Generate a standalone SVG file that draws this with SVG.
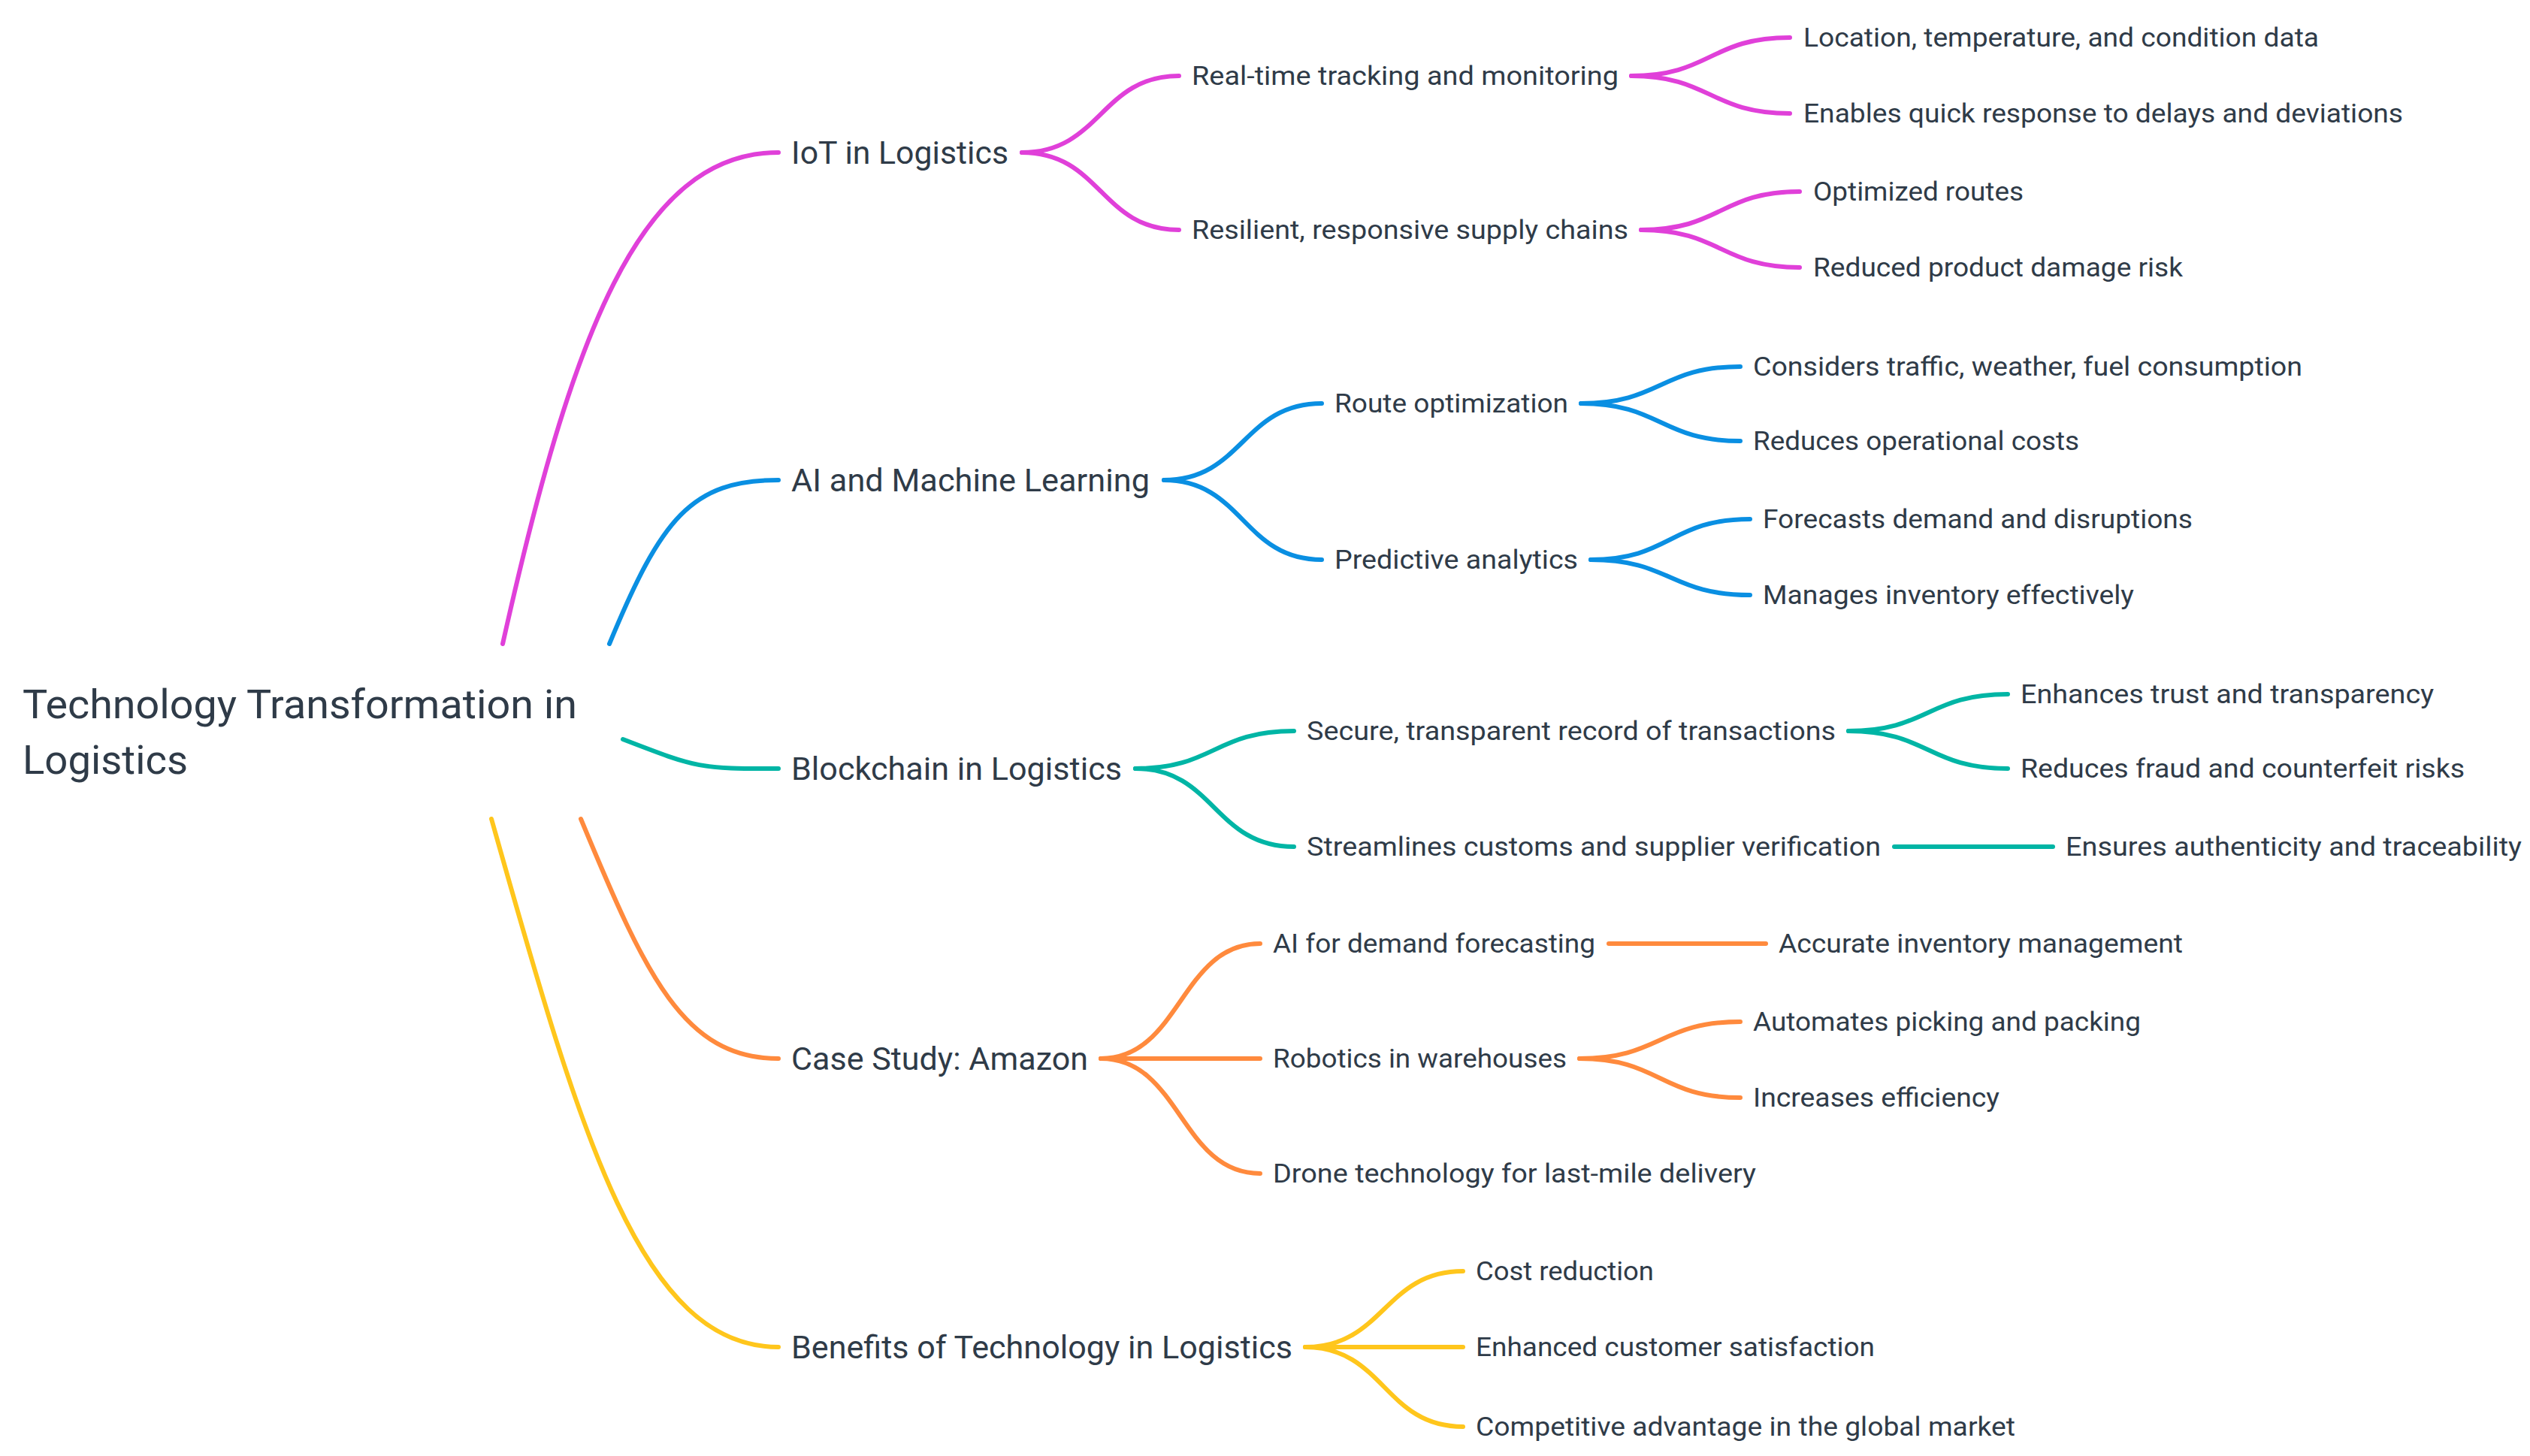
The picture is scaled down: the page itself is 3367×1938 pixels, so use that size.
<svg xmlns="http://www.w3.org/2000/svg" width="3367" height="1938" viewBox="0 0 3367 1938">
<style>
text{font-family:Roboto,"Liberation Sans",sans-serif;fill:#2F3B48}
.r{font-size:54px}.l1{font-size:43px}.t{font-size:35px}
path{fill:none;stroke-width:6;stroke-linecap:round}
.m{stroke:#E040D9}.b{stroke:#0A8FE2}.g{stroke:#00B5A5}.o{stroke:#FF8A3D}.y{stroke:#FFC61C}
</style>
<rect width="3367" height="1938" fill="#fff"/>
<g id="connectors">
<path class="m" d="M669,857 C760,450 850,203 1036,203"/>
<path class="b" d="M811,857 C880,690 920,639 1036,639"/>
<path class="g" d="M829,984 C930,1023 930,1023 1036,1023"/>
<path class="o" d="M773,1090 C860,1300 910,1409 1036,1409"/>
<path class="y" d="M654,1090 C770,1500 850,1793 1036,1793"/>
<path class="m" d="M1360,203 C1465,203 1465,101 1569,101"/><path class="m" d="M1360,203 C1465,203 1465,306 1569,306"/>
<path class="m" d="M2171,101 C2276,101 2276,50 2382,50"/><path class="m" d="M2171,101 C2276,101 2276,151 2382,151"/>
<path class="m" d="M2184,306 C2290,306 2290,255 2395,255"/><path class="m" d="M2184,306 C2290,306 2290,356 2395,356"/>
<path class="b" d="M1549,639 C1654,639 1654,537 1759,537"/><path class="b" d="M1549,639 C1654,639 1654,745 1759,745"/>
<path class="b" d="M2104,537 C2210,537 2210,488 2316,488"/><path class="b" d="M2104,537 C2210,537 2210,587 2316,587"/>
<path class="b" d="M2117,745 C2223,745 2223,691 2329,691"/><path class="b" d="M2117,745 C2223,745 2223,792 2329,792"/>
<path class="g" d="M1511,1023 C1616,1023 1616,973 1722,973"/><path class="g" d="M1511,1023 C1616,1023 1616,1127 1722,1127"/>
<path class="g" d="M2460,973 C2566,973 2566,924 2672,924"/><path class="g" d="M2460,973 C2566,973 2566,1023 2672,1023"/>
<path class="g" d="M2521,1127 L2732,1127"/>
<path class="o" d="M1465,1409 C1571,1409 1571,1256 1677,1256"/><path class="o" d="M1465,1409 L1677,1409"/><path class="o" d="M1465,1409 C1571,1409 1571,1562 1677,1562"/>
<path class="o" d="M2141,1256 L2350,1256"/>
<path class="o" d="M2102,1409 C2209,1409 2209,1360 2316,1360"/><path class="o" d="M2102,1409 C2209,1409 2209,1461 2316,1461"/>
<path class="y" d="M1737,1793 C1842,1793 1842,1692 1947,1692"/><path class="y" d="M1737,1793 L1947,1793"/><path class="y" d="M1737,1793 C1842,1793 1842,1899 1947,1899"/>
</g>
<g id="root"><text class="r" x="30" y="956" textLength="738" lengthAdjust="spacingAndGlyphs">Technology Transformation in</text><text class="r" x="30" y="1030" textLength="220" lengthAdjust="spacingAndGlyphs">Logistics</text></g>
<g id="iot"><text class="l1" x="1053" y="218" textLength="289" lengthAdjust="spacingAndGlyphs">IoT in Logistics</text></g>
<g id="ai"><text class="l1" x="1053" y="654" textLength="477" lengthAdjust="spacingAndGlyphs">AI and Machine Learning</text></g>
<g id="blockchain"><text class="l1" x="1053" y="1038" textLength="440" lengthAdjust="spacingAndGlyphs">Blockchain in Logistics</text></g>
<g id="amazon"><text class="l1" x="1053" y="1424" textLength="395" lengthAdjust="spacingAndGlyphs">Case Study: Amazon</text></g>
<g id="benefits"><text class="l1" x="1053" y="1808" textLength="667" lengthAdjust="spacingAndGlyphs">Benefits of Technology in Logistics</text></g>
<g id="iot-children">
<text class="t" x="1586" y="113" textLength="568" lengthAdjust="spacingAndGlyphs">Real-time tracking and monitoring</text>
<text class="t" x="1586" y="318" textLength="581" lengthAdjust="spacingAndGlyphs">Resilient, responsive supply chains</text>
<text class="t" x="2400" y="62" textLength="686" lengthAdjust="spacingAndGlyphs">Location, temperature, and condition data</text>
<text class="t" x="2400" y="163" textLength="798" lengthAdjust="spacingAndGlyphs">Enables quick response to delays and deviations</text>
<text class="t" x="2413" y="267" textLength="280" lengthAdjust="spacingAndGlyphs">Optimized routes</text>
<text class="t" x="2413" y="368" textLength="492" lengthAdjust="spacingAndGlyphs">Reduced product damage risk</text>
</g>
<g id="ai-children">
<text class="t" x="1776" y="549" textLength="311" lengthAdjust="spacingAndGlyphs">Route optimization</text>
<text class="t" x="1776" y="757" textLength="324" lengthAdjust="spacingAndGlyphs">Predictive analytics</text>
<text class="t" x="2333" y="500" textLength="731" lengthAdjust="spacingAndGlyphs">Considers traffic, weather, fuel consumption</text>
<text class="t" x="2333" y="599" textLength="434" lengthAdjust="spacingAndGlyphs">Reduces operational costs</text>
<text class="t" x="2346" y="703" textLength="572" lengthAdjust="spacingAndGlyphs">Forecasts demand and disruptions</text>
<text class="t" x="2346" y="804" textLength="494" lengthAdjust="spacingAndGlyphs">Manages inventory effectively</text>
</g>
<g id="blockchain-children">
<text class="t" x="1739" y="985" textLength="704" lengthAdjust="spacingAndGlyphs">Secure, transparent record of transactions</text>
<text class="t" x="1739" y="1139" textLength="764" lengthAdjust="spacingAndGlyphs">Streamlines customs and supplier verification</text>
<text class="t" x="2689" y="936" textLength="550" lengthAdjust="spacingAndGlyphs">Enhances trust and transparency</text>
<text class="t" x="2689" y="1035" textLength="591" lengthAdjust="spacingAndGlyphs">Reduces fraud and counterfeit risks</text>
<text class="t" x="2749" y="1139" textLength="607" lengthAdjust="spacingAndGlyphs">Ensures authenticity and traceability</text>
</g>
<g id="amazon-children">
<text class="t" x="1694" y="1268" textLength="429" lengthAdjust="spacingAndGlyphs">AI for demand forecasting</text>
<text class="t" x="1694" y="1421" textLength="391" lengthAdjust="spacingAndGlyphs">Robotics in warehouses</text>
<text class="t" x="1694" y="1574" textLength="643" lengthAdjust="spacingAndGlyphs">Drone technology for last-mile delivery</text>
<text class="t" x="2367" y="1268" textLength="538" lengthAdjust="spacingAndGlyphs">Accurate inventory management</text>
<text class="t" x="2333" y="1372" textLength="516" lengthAdjust="spacingAndGlyphs">Automates picking and packing</text>
<text class="t" x="2333" y="1473" textLength="328" lengthAdjust="spacingAndGlyphs">Increases efficiency</text>
</g>
<g id="benefits-children">
<text class="t" x="1964" y="1704" textLength="237" lengthAdjust="spacingAndGlyphs">Cost reduction</text>
<text class="t" x="1964" y="1805" textLength="531" lengthAdjust="spacingAndGlyphs">Enhanced customer satisfaction</text>
<text class="t" x="1964" y="1911" textLength="718" lengthAdjust="spacingAndGlyphs">Competitive advantage in the global market</text>
</g>
</svg>
